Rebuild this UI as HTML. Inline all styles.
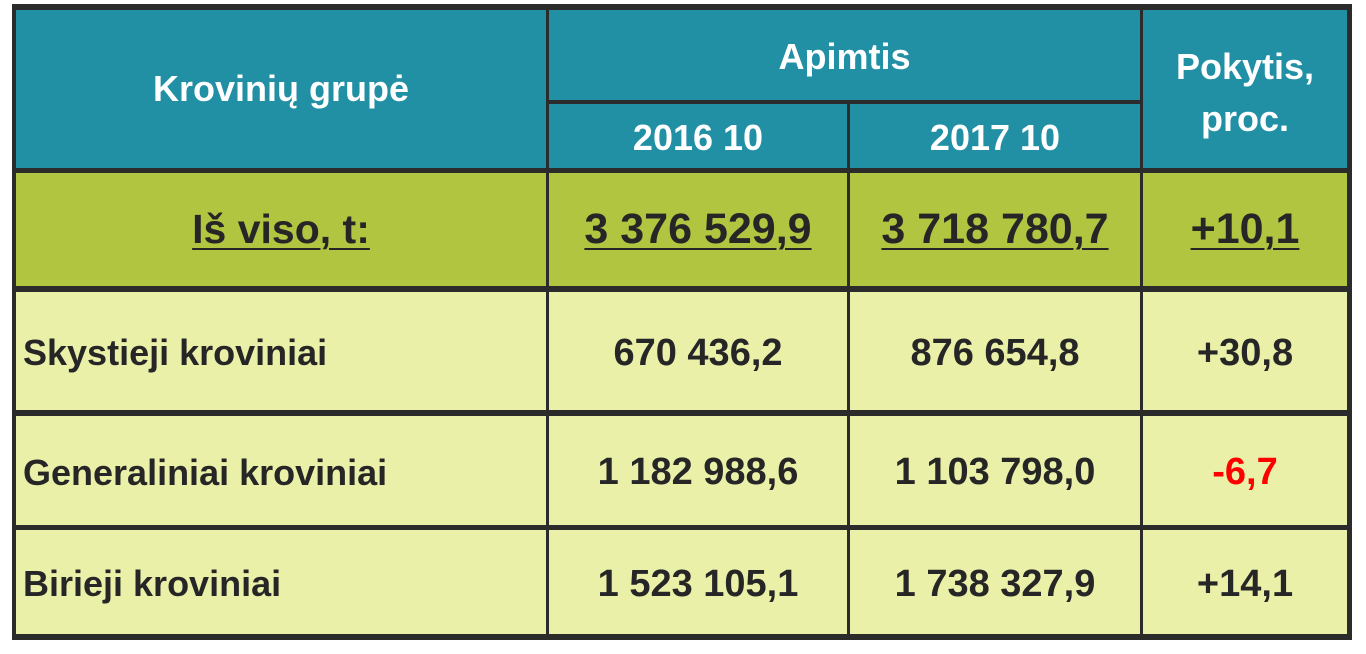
<!DOCTYPE html>
<html><head><meta charset="utf-8"><style>
body{margin:0;width:1366px;height:654px;background:#fff;position:relative;overflow:hidden;font-family:"Liberation Sans",sans-serif;font-weight:bold}
.bg{position:absolute;left:12px;top:4px;width:1340px;height:636px;background:#2b2b2b}
.c{position:absolute;display:flex;align-items:center;justify-content:center;box-sizing:border-box}
.h{background:#2190a4;color:#fff;font-size:36px}
.g{background:#b2c540;color:#262626;font-size:43px}
.g span{text-decoration:underline;text-decoration-thickness:2px;text-underline-offset:5px}
.l{background:#eaf0a8;color:#262626;font-size:38px;padding-top:4px}
.lab{justify-content:flex-start;padding-left:7px;font-size:36px}
</style></head><body>
<div class="bg"></div>
<div class="c h" style="left:16px;top:10px;width:530px;height:158px">Krovinių grupė</div>
<div class="c h" style="left:549px;top:10px;width:591px;height:90px;padding-top:4px">Apimtis</div>
<div class="c h" style="left:549px;top:104px;width:298px;height:64px;padding-top:4px">2016 10</div>
<div class="c h" style="left:850px;top:104px;width:290px;height:64px;padding-top:4px">2017 10</div>
<div class="c h" style="left:1143px;top:10px;width:204px;height:158px;text-align:center;line-height:52px;padding-top:8px">Pokytis,<br>proc.</div>

<div class="c g" style="left:16px;top:173px;width:530px;height:113px;font-size:41px"><span>Iš viso, t:</span></div>
<div class="c g" style="left:549px;top:173px;width:298px;height:113px"><span>3 376 529,9</span></div>
<div class="c g" style="left:850px;top:173px;width:290px;height:113px"><span>3 718 780,7</span></div>
<div class="c g" style="left:1143px;top:173px;width:204px;height:113px"><span>+10,1</span></div>

<div class="c l lab" style="left:16px;top:292px;width:530px;height:118px">Skystieji kroviniai</div>
<div class="c l" style="left:549px;top:292px;width:298px;height:118px">670 436,2</div>
<div class="c l" style="left:850px;top:292px;width:290px;height:118px">876 654,8</div>
<div class="c l" style="left:1143px;top:292px;width:204px;height:118px">+30,8</div>

<div class="c l lab" style="left:16px;top:416px;width:530px;height:109px">Generaliniai kroviniai</div>
<div class="c l" style="left:549px;top:416px;width:298px;height:109px">1 182 988,6</div>
<div class="c l" style="left:850px;top:416px;width:290px;height:109px">1 103 798,0</div>
<div class="c l" style="left:1143px;top:416px;width:204px;height:109px;color:#ff0000">-6,7</div>

<div class="c l lab" style="left:16px;top:530px;width:530px;height:104px">Birieji kroviniai</div>
<div class="c l" style="left:549px;top:530px;width:298px;height:104px">1 523 105,1</div>
<div class="c l" style="left:850px;top:530px;width:290px;height:104px">1 738 327,9</div>
<div class="c l" style="left:1143px;top:530px;width:204px;height:104px">+14,1</div>
</body></html>
